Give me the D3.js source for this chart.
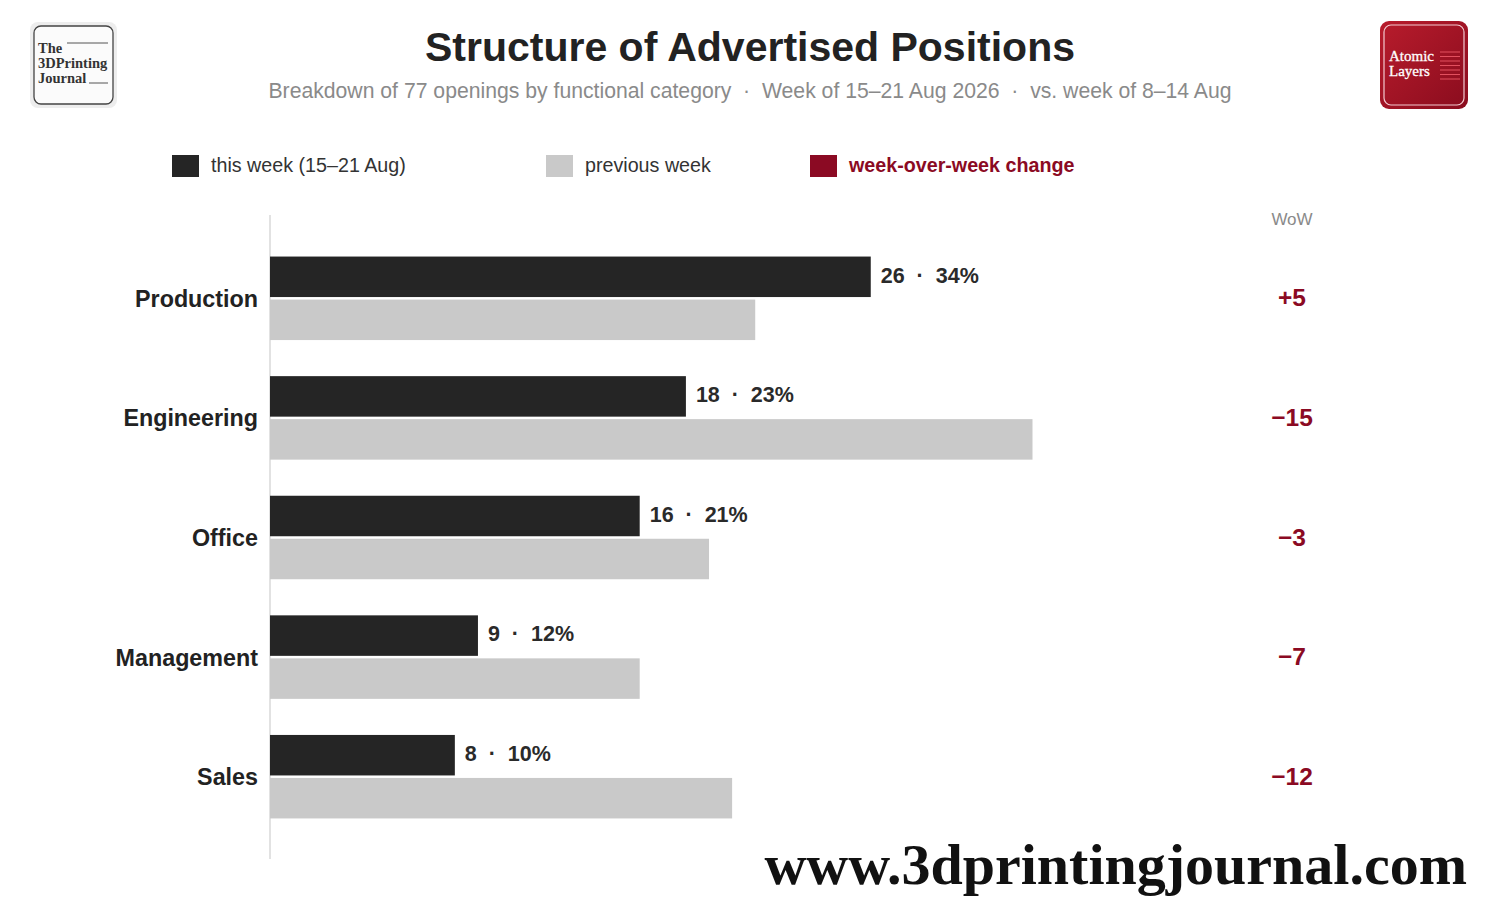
<!DOCTYPE html>
<html>
<head>
<meta charset="utf-8">
<script src="https://cdn.jsdelivr.net/npm/d3@7"></script>
<style>
  body { margin: 0; background: #fff; }
  svg { display: block; font-family: "Liberation Sans", Arial, sans-serif; }
</style>
</head>
<body>
<script>
// data
var categories = ["Production", "Engineering", "Office", "Management", "Sales"];
var thisWeek = [26, 18, 16, 9, 8];
var prevWeek = [21, 33, 19, 16, 20];
var wowLabels = ["+5", "\u221215", "\u22123", "\u22127", "\u221212"];
var pctLabels = ["34%", "23%", "21%", "12%", "10%"];
var legendLabels = ["this week (15\u201321 Aug)", "previous week", "week-over-week change"];

var W = 1500, H = 911;
var red = "#8b0a23";

var svg = d3.select("body").append("svg")
  .attr("width", W)
  .attr("height", H);

var defs = svg.append("defs");
var grad = defs.append("linearGradient").attr("id", "redgrad")
  .attr("x1", 0).attr("y1", 0).attr("x2", 1).attr("y2", 1);
grad.append("stop").attr("offset", "0%").attr("stop-color", "#b81c2c");
grad.append("stop").attr("offset", "100%").attr("stop-color", "#8a0c1e");

// title
svg.append("text")
  .attr("x", 750).attr("y", 61)
  .attr("text-anchor", "middle")
  .style("font-size", "41px").style("font-weight", "bold")
  .attr("fill", "#222")
  .text("Structure of Advertised Positions");

svg.append("text")
  .attr("x", 750).attr("y", 98)
  .attr("text-anchor", "middle")
  .attr("xml:space", "preserve")
  .style("font-size", "21.2px")
  .attr("fill", "#8a8a8a")
  .text("Breakdown of 77 openings by functional category  \u00b7  Week of 15\u201321 Aug 2026  \u00b7  vs. week of 8\u201314 Aug");

// left logo
var lg = svg.append("g").attr("transform", "translate(30,22)");
lg.append("rect").attr("width", 87).attr("height", 86).attr("rx", 8).attr("fill", "#ededed");
lg.append("rect").attr("x", 4).attr("y", 4).attr("width", 79).attr("height", 78).attr("rx", 7)
  .attr("fill", "#fbfbfb").attr("stroke", "#444").attr("stroke-width", 1.3);
lg.selectAll("text.l").data(["The", "3DPrinting", "Journal"]).enter().append("text")
  .attr("x", 8).attr("y", function (d, i) { return 31 + i * 15; })
  .style("font-family", "'Liberation Serif', serif").style("font-weight", "bold").style("font-size", "14.5px")
  .attr("fill", "#333").text(function (d) { return d; });
lg.append("line").attr("x1", 37).attr("x2", 78).attr("y1", 21).attr("y2", 21).attr("stroke", "#555");
lg.append("line").attr("x1", 59).attr("x2", 78).attr("y1", 61).attr("y2", 61).attr("stroke", "#555");

// right logo
var rg = svg.append("g").attr("transform", "translate(1380,21)");
rg.append("rect").attr("width", 88).attr("height", 88).attr("rx", 9).attr("fill", "url(#redgrad)");
rg.append("rect").attr("x", 4).attr("y", 4).attr("width", 80).attr("height", 80).attr("rx", 7)
  .attr("fill", "none").attr("stroke", "#f3c9cf").attr("stroke-width", 1.2);
rg.selectAll("text.l").data(["Atomic", "Layers"]).enter().append("text")
  .attr("x", 9).attr("y", function (d, i) { return 40 + i * 15; })
  .style("font-family", "'Liberation Serif', serif").style("font-size", "15px")
  .style("stroke", "#fff").style("stroke-width", 0.3)
  .attr("fill", "#fff").text(function (d) { return d; });
rg.selectAll("line.s").data(d3.range(7)).enter().append("line")
  .attr("x1", 60).attr("x2", 80)
  .attr("y1", function (d) { return 31 + d * 4.5; })
  .attr("y2", function (d) { return 31 + d * 4.5; })
  .attr("stroke", "#e2505f").attr("stroke-width", 1);

// legend
var legColors = ["#252525", "#c9c9c9", red];
var legX = [172, 546, 810];
var leg = svg.selectAll("g.leg").data(legendLabels).enter().append("g")
  .attr("transform", function (d, i) { return "translate(" + legX[i] + ",155)"; });
leg.append("rect").attr("width", 27).attr("height", 22)
  .attr("fill", function (d, i) { return legColors[i]; });
leg.append("text").attr("x", 39).attr("y", 17)
  .style("font-size", "19.7px")
  .style("font-weight", function (d, i) { return i === 2 ? "bold" : "normal"; })
  .attr("fill", function (d, i) { return i === 2 ? red : "#333"; })
  .text(function (d) { return d; });

// scales
var x = d3.scaleLinear().domain([0, 33]).range([270, 1032.5]);
var y = d3.scaleBand().domain(categories).range([239.5, 837.5]).paddingInner(0);
var barH = 40.5, gap = 2.5;

// axis line
svg.append("line").attr("x1", 270).attr("x2", 270).attr("y1", 215).attr("y2", 859)
  .attr("stroke", "#d8d8d8").attr("stroke-width", 1.5);

var rows = svg.selectAll("g.row").data(categories).enter().append("g")
  .attr("class", "row")
  .attr("transform", function (d) { return "translate(0," + (y(d) + y.bandwidth() / 2) + ")"; });

rows.append("rect")
  .attr("x", x(0))
  .attr("y", -barH - gap / 2 - 1)
  .attr("width", function (d, i) { return x(thisWeek[i]) - x(0); })
  .attr("height", barH)
  .attr("fill", "#252525");

rows.append("rect")
  .attr("x", x(0))
  .attr("y", gap / 2 - 1)
  .attr("width", function (d, i) { return x(prevWeek[i]) - x(0); })
  .attr("height", barH)
  .attr("fill", "#c9c9c9");

rows.append("text")
  .attr("x", 258).attr("y", 7.5)
  .attr("text-anchor", "end")
  .style("font-size", "23.3px").style("font-weight", "bold")
  .attr("fill", "#222")
  .text(function (d) { return d; });

rows.append("text")
  .attr("x", function (d, i) { return x(thisWeek[i]) + 10; })
  .attr("y", -barH / 2 + 3.5)
  .attr("xml:space", "preserve")
  .style("font-size", "21.5px").style("font-weight", "bold")
  .attr("fill", "#2a2a2a")
  .text(function (d, i) { return thisWeek[i] + "  \u00b7  " + pctLabels[i]; });

rows.append("text")
  .attr("x", 1292).attr("y", 7)
  .attr("text-anchor", "middle")
  .style("font-size", "24.5px").style("font-weight", "bold")
  .attr("fill", red)
  .text(function (d, i) { return wowLabels[i]; });

svg.append("text")
  .attr("x", 1292).attr("y", 225)
  .attr("text-anchor", "middle")
  .style("font-size", "17px")
  .attr("fill", "#8a8a8a")
  .text("WoW");

// watermark
svg.append("text")
  .attr("x", 1467).attr("y", 884)
  .attr("text-anchor", "end")
  .style("font-family", "'Liberation Serif', serif").style("font-weight", "bold").style("font-size", "58px")
  .attr("fill", "#111")
  .text("www.3dprintingjournal.com");
</script>
</body>
</html>
